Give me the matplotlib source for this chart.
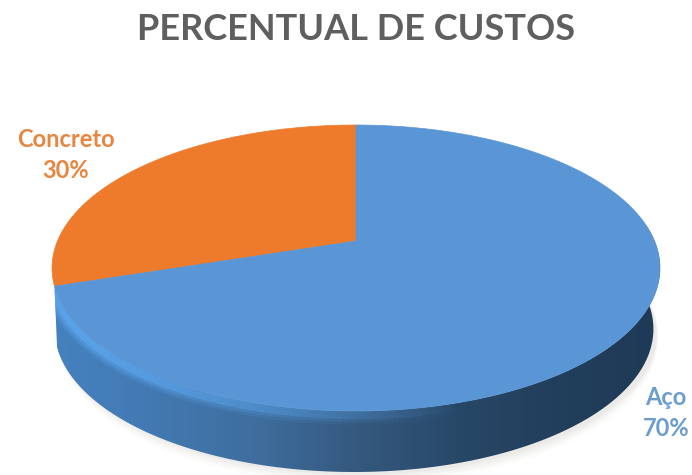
import numpy as np
import matplotlib.pyplot as plt
from matplotlib.patches import Polygon
from matplotlib.collections import LineCollection
from matplotlib.colors import LinearSegmentedColormap

title = "PERCENTUAL DE CUSTOS"
labels = ["Concreto", "Aço"]
values = [30, 70]
colors = ["#ee7b2c", "#5a96d5"]
label_colors = ["#e8853f", "#6b9dcf"]

plt.rcParams['font.family'] = ['Lato', 'DejaVu Sans']

# disco em perspectiva, em coordenadas de pixel
CX, CY = 356.0, 241.0
Q, P, C = 298.5, -92.4, 0.1888
DEPTH_X, DEPTH_Y = -2.0, 61.0
LOWER_SCALE = 0.985


def rim(theta):
    u, v = np.cos(theta), np.sin(theta)
    d = 1 + C * v
    return CX + Q * u / d, (CY + P * v) / d


def lower_rim(theta):
    x, y = rim(theta)
    return CX + (x - CX) * LOWER_SCALE + DEPTH_X, y + DEPTH_Y


fig = plt.figure(figsize=(6.92, 4.75), dpi=100)
ax = fig.add_axes([0, 0, 1, 1])
ax.set_xlim(0, 692)
ax.set_ylim(475, 0)
ax.axis('off')

# angulos das fatias: Concreto sai do topo no sentido anti-horario
total = sum(values)
a0 = np.pi / 2
a1 = a0 + 2 * np.pi * values[0] / total
a2 = a0 + 2 * np.pi

# sombra suave embaixo do disco
t = np.linspace(0, 2 * np.pi, 240)
x, y = lower_rim(t)
for grow, alpha in zip([12, 9, 6, 3], [0.025, 0.035, 0.05, 0.06]):
    ax.add_patch(Polygon(np.c_[x + 4, y + grow], closed=True,
                         fc="#8a8478", ec="none", alpha=alpha, zorder=1))

# lateral do disco com degrade
t = np.linspace(a1, 2 * np.pi + 0.12, 240)
x, y = rim(t)
lx, ly = lower_rim(t)
side_xy = np.r_[np.c_[x, y], np.c_[lx, ly][::-1]]
side = Polygon(side_xy, closed=True, fc="none", ec="none", zorder=2)
ax.add_patch(side)
cmap = LinearSegmentedColormap.from_list("side", [(0, "#4581bf"), (0.12, "#437cb7"), (0.33, "#3f6e9f"),
                                                  (0.5, "#35597f"), (0.68, "#274766"), (0.85, "#213e5b"),
                                                  (1, "#1f3a57")])
grad = np.linspace(0, 1, 300).reshape(1, -1)
im = ax.imshow(grad, cmap=cmap, extent=(50, 662, 475, 0), aspect='auto', zorder=2)
im.set_clip_path(side)
ax.set_xlim(0, 692)
ax.set_ylim(475, 0)

# brilho na borda esquerda, logo abaixo da face superior
t = np.linspace(a1, 3 * np.pi / 2 + 0.3, 120)
x, y = rim(t)
pts = np.c_[x, y + 4]
segs = np.stack([pts[:-1], pts[1:]], axis=1)
fade = np.clip(np.linspace(1.2, 0, len(segs)), 0, 1)
for width, strength in zip([14, 10, 6], [0.3, 0.45, 0.8]):
    seg_colors = np.zeros((len(segs), 4))
    seg_colors[:, :3] = (0.36, 0.65, 0.93)
    seg_colors[:, 3] = fade * strength
    lc = LineCollection(segs, colors=seg_colors, linewidths=width, zorder=2.5, capstyle='butt')
    ax.add_collection(lc)
    lc.set_clip_path(side)

# fatias
for start, stop, col in zip([a0, a1], [a1, a2], colors):
    t = np.linspace(start, stop, 240)
    x, y = rim(t)
    ax.add_patch(Polygon(np.r_[[[CX, CY]], np.c_[x, y]], closed=True, fc=col, ec=col, lw=0.5, zorder=3))

ax.text(356, 29, title, ha='center', va='center', fontsize=26, fontweight='bold', color="#5f5f5f", zorder=5)

label_pos = [(66, 155), (666, 413)]
for name, val, col, (tx, ty) in zip(labels, values, label_colors, label_pos):
    ax.text(tx, ty, f"{name}\n{val}%", ha='center', va='center', fontsize=17, fontweight='bold',
            color=col, linespacing=1.4, zorder=5)

fig.savefig("out.png", dpi=100)
